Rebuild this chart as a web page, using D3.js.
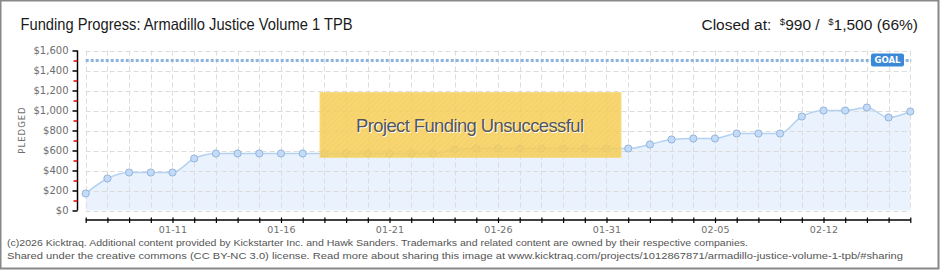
<!DOCTYPE html>
<html>
<head>
<meta charset="utf-8">
<script src="https://cdn.jsdelivr.net/npm/d3@7"></script>
<style>
  html, body { margin: 0; padding: 0; background: #fff; }
  svg { display: block; }
</style>
</head>
<body>
<svg id="canvas" width="940" height="270"></svg>
<script>
// chart data
var dates = ["01-07", "01-08", "01-09", "01-10", "01-11", "01-12", "01-13", "01-14", "01-15", "01-16",
  "01-17", "01-18", "01-19", "01-20", "01-21", "01-22", "01-23", "01-24", "01-25", "01-26",
  "01-27", "01-28", "01-29", "01-30", "01-31", "02-01", "02-02", "02-03", "02-04", "02-05",
  "02-06", "02-07", "02-09", "02-10", "02-12", "02-13", "02-14", "02-15", "02-16"];
var pledged = [170, 320, 380, 380, 380, 520, 570, 570, 570, 570,
  570, 570, 570, 570, 570, 570, 570, 610, 620, 620,
  620, 620, 620, 620, 620, 620, 660, 710, 720, 720,
  770, 770, 770, 940, 1000, 1000, 1030, 930, 990];
var labelledDates = ["01-11", "01-16", "01-21", "01-26", "01-31", "02-05", "02-12"];
var yTicks = [0, 200, 400, 600, 800, 1000, 1200, 1400, 1600];
var yMinorTicks = [100, 300, 500, 700, 900, 1100, 1300, 1500];
var goal = 1500;
var closedAt = 990;

var titleText = "Funding Progress: Armadillo Justice Volume 1 TPB";
var footerLines = [
  "(c)2026 Kicktraq. Additional content provided by Kickstarter Inc. and Hawk Sanders. Trademarks and related content are owned by their respective companies.",
  "Shared under the creative commons (CC BY-NC 3.0) license. Read more about sharing this image at www.kicktraq.com/projects/1012867871/armadillo-justice-volume-1-tpb/#sharing"
];

var svg = d3.select('#canvas');

// plot box
var plot = { left: 85.7, right: 910.3, top: 50.5, bottom: 210.5 };

var x = d3.scalePoint().domain(dates).range([plot.left, plot.right]);
var y = d3.scaleLinear().domain([0, 1600]).range([plot.bottom, plot.top]);

// frame
svg.append('rect')
  .attr('x', 0.5).attr('y', 0.5).attr('width', 938).attr('height', 268)
  .attr('fill', 'none').attr('stroke', '#888').attr('stroke-width', 2);

// hatch for the overlay
var defs = svg.append('defs');
var pat = defs.append('pattern')
  .attr('id', 'hatch').attr('patternUnits', 'userSpaceOnUse')
  .attr('width', 4).attr('height', 4)
  .attr('patternTransform', 'rotate(45)');
pat.append('rect').attr('width', 4).attr('height', 4).attr('fill', '#f5cd57');
pat.append('line').attr('x1', 0).attr('y1', 0).attr('x2', 0).attr('y2', 4)
  .attr('stroke', '#f8d66e').attr('stroke-width', 1.5);

// area under the line
var area = d3.area()
  .x(function (d, i) { return x(dates[i]); })
  .y0(y(0))
  .y1(function (d) { return y(d); })
  .curve(d3.curveMonotoneX);

svg.append('path')
  .datum(pledged)
  .attr('d', area)
  .attr('fill', '#eaf3fd');

// grid
var grid = svg.append('g').attr('class', 'grid')
  .attr('stroke', '#dcdcdc').attr('stroke-width', 1).attr('stroke-dasharray', '5,3');

grid.selectAll('.h')
  .data(yTicks)
  .enter().append('line')
  .attr('x1', plot.left).attr('x2', plot.right)
  .attr('y1', function (d) { return Math.round(y(d)) + 0.5; })
  .attr('y2', function (d) { return Math.round(y(d)) + 0.5; });

grid.selectAll('.v')
  .data(dates)
  .enter().append('line')
  .attr('x1', function (d) { return Math.round(x(d)) + 0.5; })
  .attr('x2', function (d) { return Math.round(x(d)) + 0.5; })
  .attr('y1', plot.top).attr('y2', plot.bottom);

// goal line
svg.append('line')
  .attr('x1', plot.left).attr('x2', plot.right + 1)
  .attr('y1', y(goal)).attr('y2', y(goal))
  .attr('stroke', '#8db4df').attr('stroke-width', 3)
  .attr('stroke-dasharray', '3,2');

// line + points
var line = d3.line()
  .x(function (d, i) { return x(dates[i]); })
  .y(function (d) { return y(d); })
  .curve(d3.curveMonotoneX);

svg.append('path')
  .datum(pledged)
  .attr('d', line)
  .attr('fill', 'none')
  .attr('stroke', '#b3d1f2')
  .attr('stroke-width', 1.5);

svg.append('g').selectAll('circle')
  .data(pledged)
  .enter().append('circle')
  .attr('cx', function (d, i) { return x(dates[i]); })
  .attr('cy', function (d) { return y(d); })
  .attr('r', 3.6)
  .attr('fill', '#c3dbf6')
  .attr('stroke', '#93b4dc')
  .attr('stroke-width', 1);

// goal tag
var goalTag = svg.append('g').attr('transform', 'translate(871,' + (y(goal) - 7) + ')');
goalTag.append('rect')
  .attr('width', 33).attr('height', 13).attr('rx', 2)
  .attr('fill', '#3b87d8');
goalTag.append('text')
  .attr('x', 16.5).attr('y', 9.8)
  .attr('text-anchor', 'middle')
  .attr('font-family', 'DejaVu Sans, sans-serif')
  .attr('font-size', 8.5).attr('font-weight', 'bold')
  .attr('fill', '#fff')
  .text('GOAL');

// y axis
var yAxis = d3.axisLeft(y)
  .tickValues(yTicks)
  .tickSize(5)
  .tickFormat(d3.format('$,'));

var yg = svg.append('g')
  .attr('transform', 'translate(77.5,0)')
  .call(yAxis);
yg.select('.domain').attr('stroke', '#000').attr('stroke-width', 1.5).attr('d', 'M0,' + plot.top + 'V' + plot.bottom);
yg.selectAll('.tick line').attr('stroke', '#000').attr('stroke-width', 1.5);
yg.selectAll('.tick text')
  .attr('x', -9)
  .attr('font-family', 'DejaVu Sans, sans-serif')
  .attr('font-size', 10)
  .attr('fill', '#6e6e6e');

var yMinor = svg.append('g')
  .attr('transform', 'translate(77.5,0)')
  .call(d3.axisLeft(y).tickValues(yMinorTicks).tickSize(4).tickFormat(''));
yMinor.select('.domain').remove();
yMinor.selectAll('.tick line').attr('stroke', '#e00').attr('stroke-width', 1.5);

svg.append('text')
  .attr('transform', 'translate(25,130) rotate(-90)')
  .attr('text-anchor', 'middle')
  .attr('font-family', 'DejaVu Sans, sans-serif')
  .attr('font-size', 8.5)
  .attr('letter-spacing', 1)
  .attr('fill', '#6e6e6e')
  .text('PLEDGED');

// x axis
var xAxis = d3.axisBottom(x)
  .tickSize(3)
  .tickPadding(3)
  .tickFormat(function (d) { return labelledDates.indexOf(d) >= 0 ? d : ''; });

var xg = svg.append('g')
  .attr('transform', 'translate(0,220)')
  .call(xAxis);
xg.select('.domain').attr('stroke', '#000').attr('stroke-width', 1.5)
  .attr('d', 'M' + plot.left + ',0H' + (plot.right + 0.5));
xg.selectAll('.tick line').attr('y1', -2.5).attr('y2', 3).attr('stroke', '#000').attr('stroke-width', 1.2);
xg.selectAll('.tick text')
  .attr('font-family', 'DejaVu Sans, sans-serif')
  .attr('font-size', 9.5)
  .attr('letter-spacing', 0.2)
  .attr('fill', '#6e6e6e');

// unsuccessful overlay
var banner = svg.append('g');
banner.append('rect')
  .attr('x', 320).attr('y', 92.5).attr('width', 301).attr('height', 65)
  .attr('fill', 'url(#hatch)').attr('opacity', 0.88)
  .attr('stroke', '#f7d978').attr('stroke-width', 1);
banner.append('text')
  .attr('x', 471).attr('y', 133)
  .attr('text-anchor', 'middle')
  .attr('font-family', 'Liberation Sans Narrow, sans-serif')
  .attr('font-size', 18.5)
  .attr('fill', '#fff')
  .attr('textLength', 228)
  .text('Project Funding Unsuccessful');
banner.append('text')
  .attr('x', 470).attr('y', 132)
  .attr('text-anchor', 'middle')
  .attr('font-family', 'Liberation Sans Narrow, sans-serif')
  .attr('font-size', 18.5)
  .attr('fill', '#555')
  .attr('textLength', 228)
  .text('Project Funding Unsuccessful');

// titles
svg.append('text')
  .attr('x', 20.5).attr('y', 30)
  .attr('font-family', 'Liberation Sans Narrow, sans-serif')
  .attr('font-size', 16.5)
  .attr('fill', '#1a1a1a')
  .attr('textLength', 332)
  .attr('lengthAdjust', 'spacingAndGlyphs')
  .text(titleText);

var fmt = d3.format(',');
var closedLabel = svg.append('text')
  .attr('x', 918).attr('y', 30)
  .attr('text-anchor', 'end')
  .attr('font-family', 'Liberation Sans Narrow, sans-serif')
  .attr('font-size', 15.5)
  .attr('fill', '#1a1a1a')
  .style('white-space', 'pre');
closedLabel.append('tspan').text('Closed at:  ');
closedLabel.append('tspan').attr('font-size', 9.5).attr('dy', -5).text('$');
closedLabel.append('tspan').attr('dy', 5).text(fmt(closedAt) + ' /  ');
closedLabel.append('tspan').attr('font-size', 9.5).attr('dy', -5).text('$');
closedLabel.append('tspan').attr('dy', 5).text(fmt(goal) + ' (' + Math.round(closedAt / goal * 100) + '%)');

// footer
svg.selectAll('.footer')
  .data(footerLines)
  .enter().append('text')
  .attr('x', 7)
  .attr('y', function (d, i) { return 246 + i * 12.5; })
  .attr('font-family', 'Liberation Sans Narrow, sans-serif')
  .attr('font-size', 9.5)
  .attr('fill', '#555')
  .attr('textLength', function (d, i) { return i === 0 ? 741 : 896; })
  .attr('lengthAdjust', 'spacingAndGlyphs')
  .text(function (d) { return d; });
</script>
</body>
</html>
